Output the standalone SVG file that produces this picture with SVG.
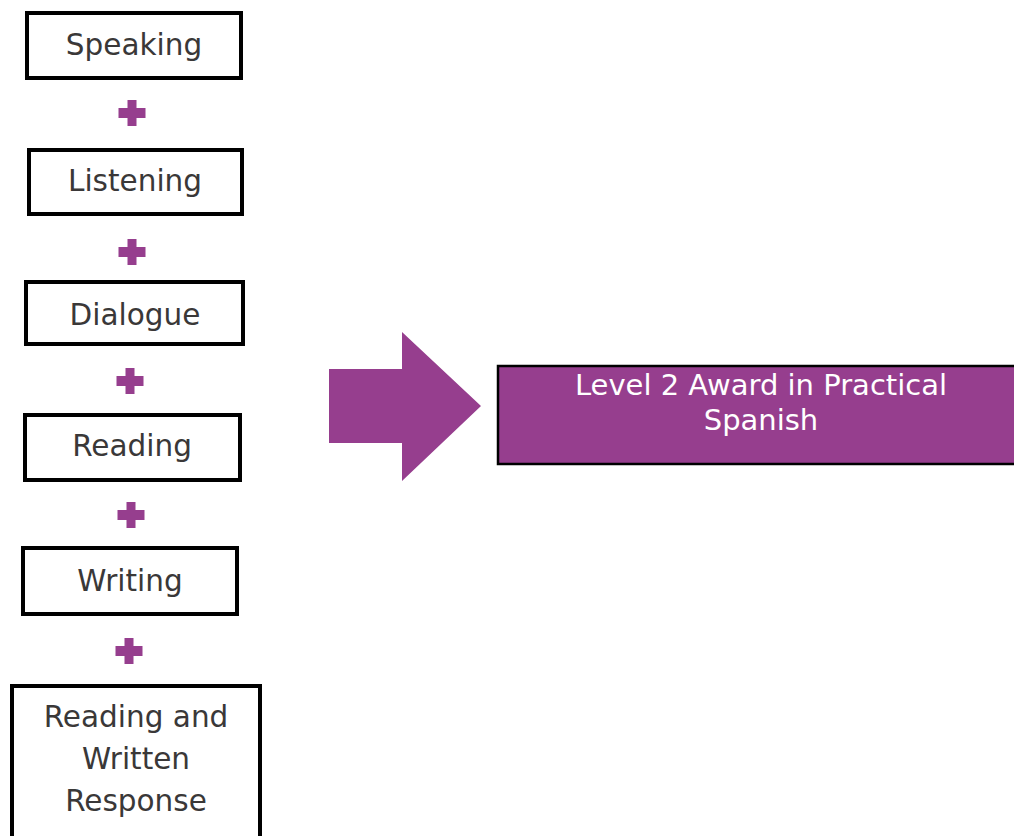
<svg xmlns="http://www.w3.org/2000/svg" width="1014" height="836" viewBox="0 0 1014 836">
<defs>
<style>
.box{fill:#fff;stroke:#000;stroke-width:4}
.lbl{font-family:"DejaVu Sans","Verdana",sans-serif;font-size:29.5px;fill:#3a3838;text-anchor:middle}
.plus{fill:#963e8e}
.ttl{font-family:"DejaVu Sans","Verdana",sans-serif;font-size:29px;fill:#fff;text-anchor:middle}
</style>
<path id="plusShape" d="M-4.5,-13 H4.5 V-5 H13.5 V5 H4.5 V13 H-4.5 V5 H-13.5 V-5 H-4.5 Z"/>
</defs>
<rect width="1014" height="836" fill="#fff"/>
<g id="speaking"><rect class="box" x="27" y="13" width="214" height="65"/><text class="lbl" x="134" y="55">Speaking</text></g>
<g id="listening"><rect class="box" x="29" y="150" width="213" height="64"/><text class="lbl" x="135" y="191">Listening</text></g>
<g id="dialogue"><rect class="box" x="26" y="282" width="217" height="62"/><text class="lbl" x="135" y="325">Dialogue</text></g>
<g id="reading"><rect class="box" x="25" y="415" width="215" height="65"/><text class="lbl" x="132" y="456">Reading</text></g>
<g id="writing"><rect class="box" x="23" y="548" width="214" height="66"/><text class="lbl" x="130" y="591">Writing</text></g>
<g id="reading-written"><rect class="box" x="12" y="686" width="248" height="160"/><text class="lbl" x="136" y="727">Reading and</text><text class="lbl" x="136" y="769">Written</text><text class="lbl" x="136" y="811">Response</text></g>
<g id="connectors">
<use href="#plusShape" class="plus" x="132" y="113"/>
<use href="#plusShape" class="plus" x="132" y="252"/>
<use href="#plusShape" class="plus" x="130" y="381"/>
<use href="#plusShape" class="plus" x="131" y="515"/>
<use href="#plusShape" class="plus" x="129" y="651"/>
<polygon class="plus" points="329,369 402,369 402,332 481,406 402,481 402,443 329,443"/>
</g>
<g id="award"><rect x="498" y="366" width="520" height="98" fill="#963e8e" stroke="#000" stroke-width="2.5"/><text class="ttl" x="761" y="395">Level 2 Award in Practical</text><text class="ttl" x="761" y="430">Spanish</text></g>
</svg>
